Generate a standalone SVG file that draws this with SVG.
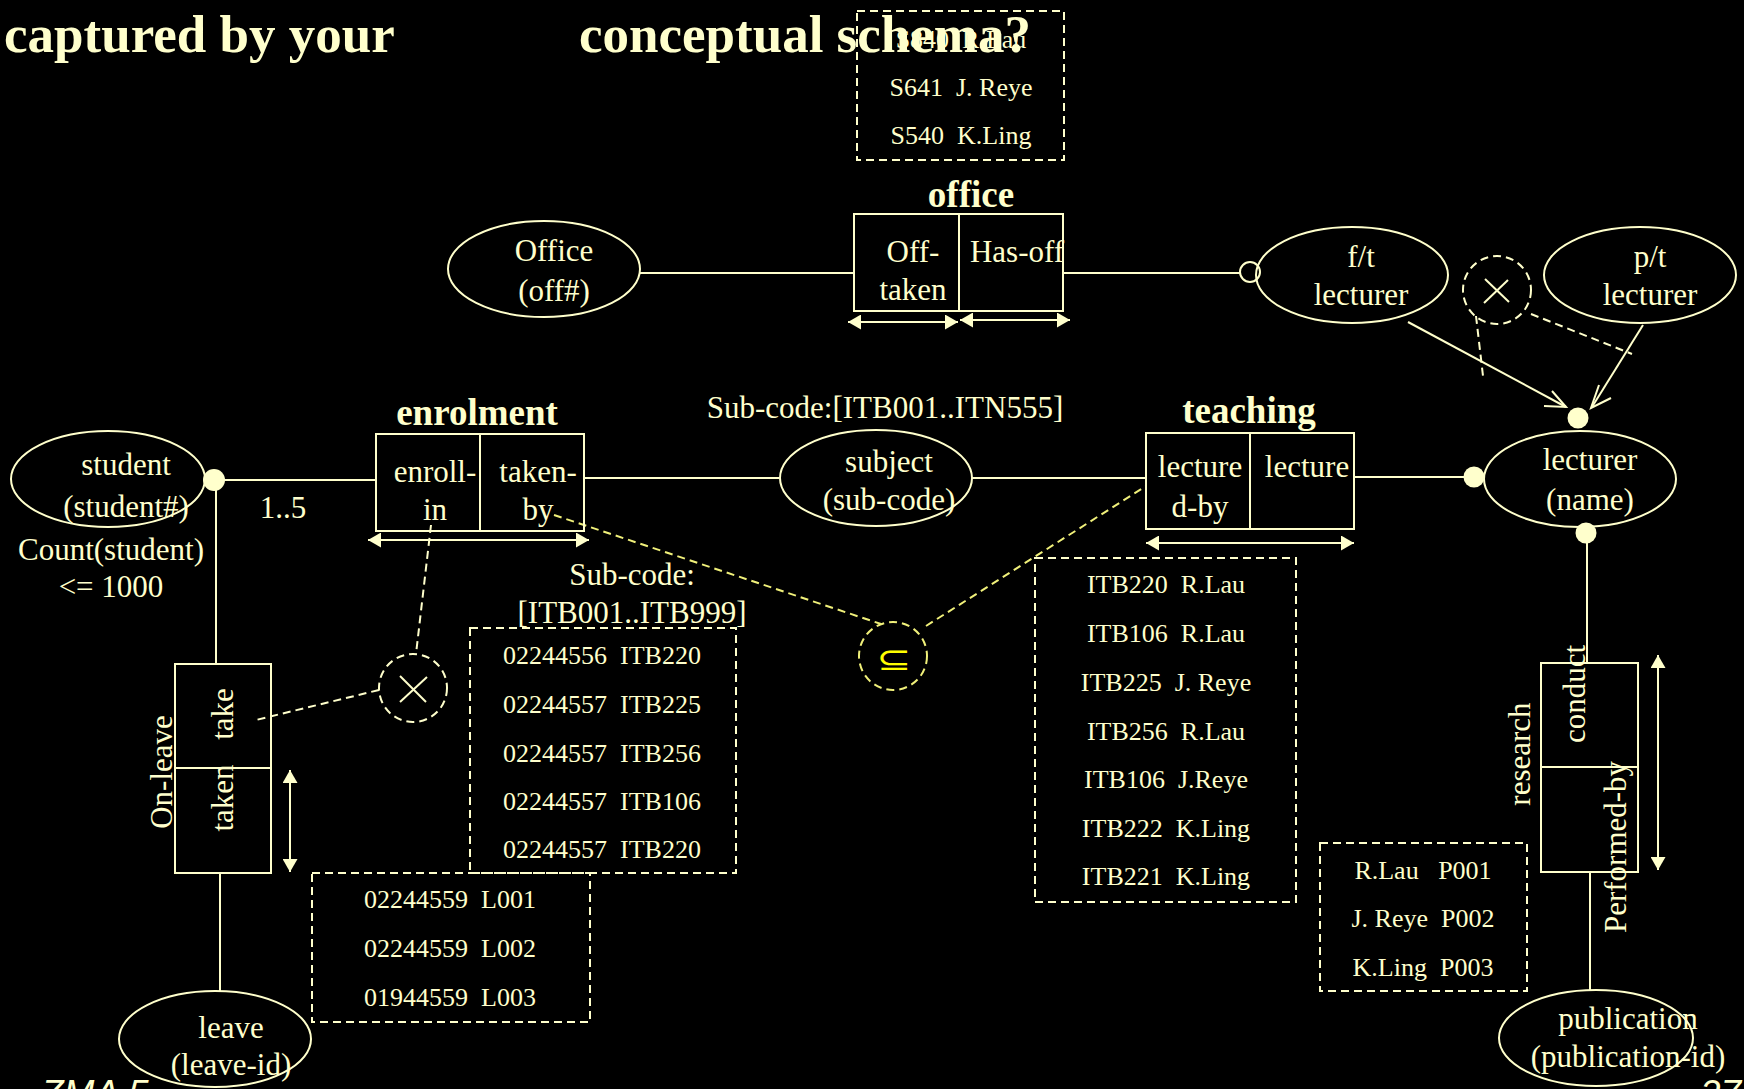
<svg xmlns="http://www.w3.org/2000/svg" width="1744" height="1089" viewBox="0 0 1744 1089">
<style>
.ln{stroke:#ffffcc;stroke-width:2;fill:none}
.dl{stroke:#ffffcc;stroke-width:2;fill:none;stroke-dasharray:8 5}
.yl{stroke:#f0f07a;stroke-width:2;fill:none;stroke-dasharray:8 5}
.t{font-family:"Liberation Serif","Times New Roman",serif;font-size:31px;fill:#ffffcc;text-anchor:middle}
.tb{font-family:"Liberation Serif","Times New Roman",serif;font-size:26px;fill:#ffffcc;text-anchor:middle;white-space:pre}
.b{font-family:"Liberation Serif","Times New Roman",serif;font-size:37px;font-weight:bold;fill:#ffffcc;text-anchor:middle}
.h{font-family:"Liberation Serif","Times New Roman",serif;font-size:53px;font-weight:bold;fill:#ffffcc}
.s{font-family:"Liberation Sans",Arial,sans-serif;font-size:37px;font-style:italic;fill:#ffffcc}
.dot{fill:#ffffcc}
</style>
<defs>
<marker id="ah" viewBox="0 0 10 10" refX="10" refY="5" markerWidth="13" markerHeight="15" markerUnits="userSpaceOnUse" orient="auto-start-reverse" preserveAspectRatio="none">
<path d="M0,0 L10,5 L0,10 z" fill="#ffffcc"/>
</marker>
</defs>
<rect width="1744" height="1089" fill="#000"/>

<g id="office-table">
<rect class="dl" x="857" y="11" width="207" height="149"/>
<text class="tb" x="961" y="48">S840  R.Lau</text>
<text class="tb" x="961" y="96">S641  J. Reye</text>
<text class="tb" x="961" y="144">S540  K.Ling</text>
</g>

<g id="title">
<text class="h" x="4" y="52">captured by your</text>
<text class="h" x="579" y="52">conceptual schema?</text>
</g>

<g id="connectors">
<line class="ln" x1="640" y1="273" x2="854" y2="273"/>
<line class="ln" x1="1063" y1="273" x2="1240" y2="273"/>
<line class="ln" x1="1408" y1="322" x2="1566" y2="407"/>
<polyline class="ln" points="1552,391 1566,407 1544,406" stroke-width="3"/>
<line class="ln" x1="1643" y1="325" x2="1592" y2="407"/>
<polyline class="ln" points="1611,398 1591,408 1599,385" stroke-width="3"/>
<line class="dl" x1="1476" y1="316" x2="1483" y2="376"/>
<line class="dl" x1="1531" y1="314" x2="1632" y2="354"/>
<line class="ln" x1="214" y1="480" x2="376" y2="480"/>
<line class="ln" x1="216" y1="490" x2="216" y2="664"/>
<line class="ln" x1="220" y1="873" x2="220" y2="991"/>
<line class="ln" x1="584" y1="478" x2="779" y2="478"/>
<line class="ln" x1="972" y1="478" x2="1146" y2="478"/>
<line class="ln" x1="1354" y1="477" x2="1474" y2="477"/>
<line class="ln" x1="1587" y1="533" x2="1587" y2="663"/>
<line class="ln" x1="1590" y1="872" x2="1590" y2="990"/>
<line class="dl" x1="431" y1="525" x2="416" y2="654"/>
<line class="dl" x1="379" y1="690" x2="256" y2="720"/>
<line class="yl" x1="554" y1="515" x2="881" y2="624"/>
<line class="yl" x1="926" y1="626" x2="1146" y2="486"/>
</g>

<g id="office-entity">
<ellipse class="ln" cx="544" cy="269" rx="96" ry="48"/>
<text class="t" x="554" y="261">Office</text>
<text class="t" x="554" y="301">(off#)</text>
</g>

<g id="office-fact">
<text class="b" x="971" y="207">office</text>
<rect class="ln" x="854" y="214" width="209" height="97"/>
<line class="ln" x1="959" y1="214" x2="959" y2="311"/>
<text class="t" x="913" y="262">Off-</text>
<text class="t" x="913" y="300">taken</text>
<text class="t" x="1017" y="262">Has-off</text>
<line class="ln" x1="848" y1="322" x2="958" y2="322" marker-start="url(#ah)" marker-end="url(#ah)"/>
<line class="ln" x1="960" y1="320" x2="1070" y2="320" marker-start="url(#ah)" marker-end="url(#ah)"/>
</g>

<g id="ft-lecturer">
<circle class="ln" cx="1250" cy="272" r="10"/>
<ellipse class="ln" cx="1352" cy="275" rx="96" ry="48"/>
<text class="t" x="1361" y="267">f/t</text>
<text class="t" x="1361" y="305">lecturer</text>
</g>

<g id="exclusion-top">
<circle class="dl" cx="1497" cy="290" r="34"/>
<line class="ln" stroke-width="3" x1="1485" y1="279" x2="1509" y2="302"/>
<line class="ln" stroke-width="3" x1="1484" y1="303" x2="1508" y2="280"/>
</g>

<g id="pt-lecturer">
<ellipse class="ln" cx="1640" cy="275" rx="96" ry="48"/>
<text class="t" x="1650" y="267">p/t</text>
<text class="t" x="1650" y="305">lecturer</text>
</g>

<g id="lecturer">
<circle class="dot" cx="1578" cy="418" r="10.5"/>
<circle class="dot" cx="1474" cy="477" r="10.5"/>
<circle class="dot" cx="1586" cy="533" r="10.5"/>
<ellipse class="ln" cx="1580" cy="479" rx="96" ry="48"/>
<text class="t" x="1590" y="470">lecturer</text>
<text class="t" x="1590" y="510">(name)</text>
</g>

<g id="student">
<ellipse class="ln" cx="108" cy="479" rx="97" ry="48"/>
<text class="t" x="126" y="475">student</text>
<text class="t" x="126" y="517">(student#)</text>
<circle class="dot" cx="214" cy="480" r="11"/>
<text class="t" x="283" y="518">1..5</text>
<text class="t" x="111" y="560">Count(student)</text>
<text class="t" x="111" y="597">&lt;= 1000</text>
</g>

<g id="enrolment">
<text class="b" x="477" y="425">enrolment</text>
<rect class="ln" x="376" y="434" width="208" height="97"/>
<line class="ln" x1="480" y1="434" x2="480" y2="531"/>
<text class="t" x="435" y="482">enroll-</text>
<text class="t" x="435" y="520">in</text>
<text class="t" x="538" y="482">taken-</text>
<text class="t" x="538" y="520">by</text>
<line class="ln" x1="368" y1="540" x2="589" y2="540" marker-start="url(#ah)" marker-end="url(#ah)"/>
</g>

<g id="subject">
<text class="t" x="885" y="418">Sub-code:[ITB001..ITN555]</text>
<ellipse class="ln" cx="876" cy="478" rx="96" ry="48"/>
<text class="t" x="889" y="472">subject</text>
<text class="t" x="889" y="510">(sub-code)</text>
</g>

<g id="teaching">
<text class="b" x="1249" y="423">teaching</text>
<rect class="ln" x="1146" y="433" width="208" height="96"/>
<line class="ln" x1="1250" y1="433" x2="1250" y2="529"/>
<text class="t" x="1200" y="477">lecture</text>
<text class="t" x="1200" y="517">d-by</text>
<text class="t" x="1307" y="477">lecture</text>
<line class="ln" x1="1146" y1="543" x2="1354" y2="543" marker-start="url(#ah)" marker-end="url(#ah)"/>
</g>

<g id="subset-constraint">
<circle class="yl" cx="893" cy="656" r="34"/>
<text font-family="DejaVu Sans,sans-serif" font-size="32" fill="#ffff00" text-anchor="middle" transform="translate(894 670) scale(1.3 1)">⊆</text>
</g>

<g id="exclusion-left">
<circle class="dl" cx="413" cy="688" r="34"/>
<line class="ln" stroke-width="3" x1="400" y1="676" x2="426" y2="702"/>
<line class="ln" stroke-width="3" x1="400" y1="702" x2="427" y2="677"/>
</g>

<g id="enrolment-table">
<text class="t" x="632" y="585">Sub-code:</text>
<text class="t" x="632" y="623">[ITB001..ITB999]</text>
<rect class="dl" x="470" y="628" width="266" height="245"/>
<text class="tb" x="602" y="664">02244556  ITB220</text>
<text class="tb" x="602" y="713">02244557  ITB225</text>
<text class="tb" x="602" y="762">02244557  ITB256</text>
<text class="tb" x="602" y="810">02244557  ITB106</text>
<text class="tb" x="602" y="858">02244557  ITB220</text>
</g>

<g id="on-leave">
<rect class="ln" x="175" y="664" width="96" height="209"/>
<line class="ln" x1="175" y1="768" x2="271" y2="768"/>
<text class="t" transform="translate(172 772) rotate(-90)">On-leave</text>
<text class="t" transform="translate(233 714) rotate(-90)">take</text>
<text class="t" transform="translate(233 798) rotate(-90)">taken</text>
<line class="ln" x1="290" y1="770" x2="290" y2="872" marker-start="url(#ah)" marker-end="url(#ah)"/>
</g>

<g id="leave-table">
<rect class="dl" x="312" y="873" width="278" height="149"/>
<text class="tb" x="450" y="908">02244559  L001</text>
<text class="tb" x="450" y="957">02244559  L002</text>
<text class="tb" x="450" y="1006">01944559  L003</text>
</g>

<g id="leave">
<ellipse class="ln" cx="215" cy="1039" rx="96" ry="48"/>
<text class="t" x="231" y="1038">leave</text>
<text class="t" x="231" y="1075">(leave-id)</text>
</g>

<g id="teaching-table">
<rect class="dl" x="1035" y="558" width="261" height="344"/>
<text class="tb" x="1166" y="593">ITB220  R.Lau</text>
<text class="tb" x="1166" y="642">ITB106  R.Lau</text>
<text class="tb" x="1166" y="691">ITB225  J. Reye</text>
<text class="tb" x="1166" y="740">ITB256  R.Lau</text>
<text class="tb" x="1166" y="788">ITB106  J.Reye</text>
<text class="tb" x="1166" y="837">ITB222  K.Ling</text>
<text class="tb" x="1166" y="885">ITB221  K.Ling</text>
</g>

<g id="research-table">
<rect class="dl" x="1320" y="843" width="207" height="148"/>
<text class="tb" x="1423" y="879">R.Lau   P001</text>
<text class="tb" x="1423" y="927">J. Reye  P002</text>
<text class="tb" x="1423" y="976">K.Ling  P003</text>
</g>

<g id="research">
<rect class="ln" x="1541" y="663" width="97" height="209"/>
<line class="ln" x1="1541" y1="767" x2="1638" y2="767"/>
<text class="t" transform="translate(1530 754) rotate(-90)">research</text>
<text class="t" transform="translate(1585 694) rotate(-90)">conduct</text>
<text class="t" transform="translate(1626 847) rotate(-90)">Performed-by</text>
<line class="ln" x1="1658" y1="655" x2="1658" y2="870" marker-start="url(#ah)" marker-end="url(#ah)"/>
</g>

<g id="publication">
<ellipse class="ln" cx="1596" cy="1038" rx="97" ry="48"/>
<text class="t" x="1628" y="1029">publication</text>
<text class="t" x="1628" y="1067">(publication-id)</text>
</g>

<g id="footer">
<text class="s" x="41" y="1106">ZMA 5</text>
<text class="s" x="1700" y="1106" font-style="normal">27</text>
</g>
</svg>
